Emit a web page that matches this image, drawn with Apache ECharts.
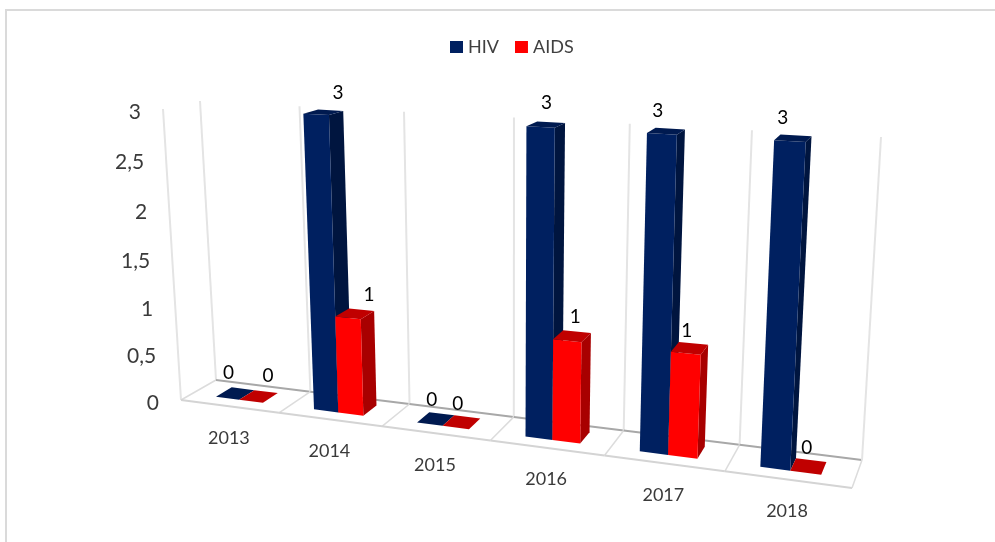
<!DOCTYPE html>
<html><head><meta charset="utf-8">
<style>html,body{margin:0;padding:0;background:#fff}#chart{width:995px;height:542px}</style>
<script src="https://cdn.jsdelivr.net/npm/echarts@6/dist/echarts.min.js"></script>
</head><body><div id="chart"></div>
<script>
const categories = ['2013','2014','2015','2016','2017','2018'];
const hivValues  = [0,3,0,3,3,3];
const aidsValues = [0,1,0,1,1,0];
const valueTicks = [0,0.5,1,1.5,2,2.5,3];
const tickLabels = ['0','0,5','1','1,5','2','2,5','3'];
const boundaries = [0,1,2,3,4,5,6];

// Oblique view of the chart box: the four floor and four top corners on screen
const VIEW = {
  backBottom:[[216,380],[862,460]], frontBottom:[[181,400],[852,488]],
  backTop:[[200,101],[881,137]],    frontTop:[[163,109],[871,150]],
  kU:1.169, kV:1.05
};
const lerp=(a,b,t)=>[a[0]+(b[0]-a[0])*t,a[1]+(b[1]-a[1])*t];
const warp=(s,k)=>s/(s+k*(1-s));
function project(s,d,w){ // s across, d depth (0 front, 1 back), w height, each 0..1
  const t=warp(s,VIEW.kU), h=warp(w,VIEW.kV);
  const bot=lerp(lerp(VIEW.frontBottom[0],VIEW.frontBottom[1],t),lerp(VIEW.backBottom[0],VIEW.backBottom[1],t),d);
  const top=lerp(lerp(VIEW.frontTop[0],VIEW.frontTop[1],t),lerp(VIEW.backTop[0],VIEW.backTop[1],t),d);
  return lerp(bot,top,h);
}
function sFromCoord(api,cs,i,off){
  const bw=api.size([1,0])[0];
  return (api.coord([i,0])[0]-bw/2+off*bw-cs.x)/cs.width;
}
function wFromValue(api,cs,v){ return 1-(api.coord([0,v])[1]-cs.y)/cs.height; }

const FONT='Lato';
const D0=0.32,D1=0.78;
const labelNudge={HIV:[[1,-25],[22,-22],[2,-24],[6,-24],[-4,-23],[-7,-23]],
                  AIDS:[[17,-25],[21,-23],[2,-24],[8,-24],[1,-22],[1,-25]]};
function barRender(name,x0,x1,cols){
  return function(params,api){
    const cs=params.coordSys, i=api.value(0), v=api.value(1);
    const sa=sFromCoord(api,cs,i,x0), sb=sFromCoord(api,cs,i,x1), w=wFromValue(api,cs,v), w0=wFromValue(api,cs,0);
    const P=(s,d,h)=>project(s,d,h);
    const children=[];
    if(v>0){
      children.push({type:'polygon',shape:{points:[P(sb,D0,w0),P(sb,D1,w0),P(sb,D1,w),P(sb,D0,w)]},style:{fill:cols.side}});
      children.push({type:'polygon',shape:{points:[P(sa,D0,w0),P(sb,D0,w0),P(sb,D0,w),P(sa,D0,w)]},style:{fill:cols.front}});
    }
    children.push({type:'polygon',shape:{points:[P(sa,D0,w),P(sb,D0,w),P(sb,D1,w),P(sa,D1,w)]},style:{fill:cols.top}});
    const c=P((sa+sb)/2,D0,w), n=labelNudge[name][i];
    children.push({type:'text',z2:50,style:{text:String(v),x:c[0]+n[0],y:c[1]+n[1],align:'center',verticalAlign:'middle',fill:'#000',fontSize:19,fontFamily:FONT}});
    return {type:'group',children};
  };
}
function structureRender(params,api){
  const b=api.value(0);
  const s=b/6, w1=1, children=[];
  const line=(a,c,col,lw)=>({type:'line',shape:{x1:a[0],y1:a[1],x2:c[0],y2:c[1]},style:{stroke:col,lineWidth:lw}});
  children.push(line(project(s,1,0),project(s,1,w1),'#e4e4e4',2));
  children.push(line(project(s,0,0),project(s,1,0),'#dcdcdc',1.5));
  if(b===0) children.push(line(project(0,0,0),project(0,0,1),'#e4e4e4',2));
  if(b<6){
    children.push(line(project(s,0,0),project((b+1)/6,0,0),'#d4d4d4',2));
    children.push(line(project(s,1,0),project((b+1)/6,1,0),'#a8a8a8',2));
    const p=project((b+0.5)/6,0,0);
    children.push({type:'text',style:{text:categories[b],x:p[0]-0.5,y:p[1]+31.5,align:'center',verticalAlign:'middle',fill:'#3a3a3a',fontSize:18,fontFamily:FONT}});
  }
  return {type:'group',children};
}
function tickRender(params,api){
  const cs=params.coordSys, v=api.value(0), i=params.dataIndex;
  const p=project(0,0,wFromValue(api,cs,v));
  return {type:'text',style:{text:tickLabels[i],x:p[0]-22,y:p[1]+3,align:'right',verticalAlign:'middle',fill:'#3a3a3a',fontSize:21,fontFamily:FONT}};
}
const chart=echarts.init(document.getElementById('chart'),null,{renderer:'canvas'});
chart.setOption({
  animation:false,
  backgroundColor:'#fff',
  textStyle:{fontFamily:FONT},
  legend:{data:['HIV','AIDS'],left:450,top:38,padding:0,icon:'rect',itemWidth:13,itemHeight:12,itemGap:16,
          textStyle:{fontSize:18,color:'#404040',fontFamily:FONT},selectedMode:false},
  grid:{left:100,right:100,top:100,bottom:100},
  xAxis:{type:'category',data:categories,show:false},
  yAxis:{type:'value',min:0,max:3,interval:0.5,show:false},
  graphic:[{type:'rect',silent:true,shape:{x:6,y:10,width:1200,height:900},style:{fill:'none',stroke:'#dadada',lineWidth:2}}],
  series:[
    {name:'structure',type:'custom',silent:true,clip:false,data:boundaries.map(b=>[b]),encode:{x:-1,y:-1},renderItem:structureRender,z:1},
    {name:'ticks',type:'custom',silent:true,clip:false,data:valueTicks.map(v=>[v]),encode:{x:-1,y:-1},renderItem:tickRender,z:1},
    {name:'HIV',type:'custom',clip:false,itemStyle:{color:'#002060'},encode:{x:0,y:1},data:hivValues.map((v,i)=>[i,v]),
     renderItem:barRender('HIV',0.25,0.49,{front:'#002060',side:'#00153f',top:'#001a50'}),z:2},
    {name:'AIDS',type:'custom',clip:false,itemStyle:{color:'#ff0000'},encode:{x:0,y:1},data:aidsValues.map((v,i)=>[i,v]),
     renderItem:barRender('AIDS',0.49,0.735,{front:'#ff0000',side:'#a80000',top:'#c00000'}),z:3}
  ]
});
</script></body></html>
